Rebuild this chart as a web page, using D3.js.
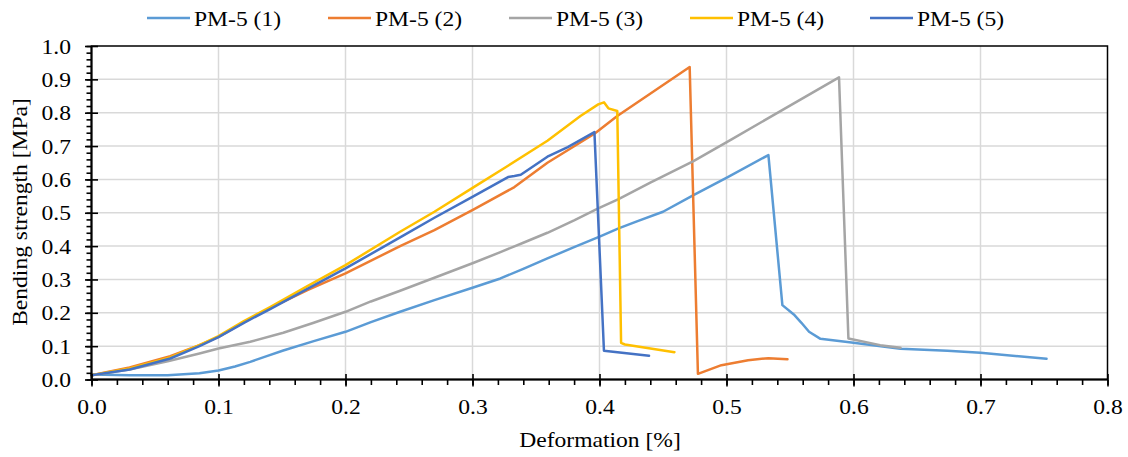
<!DOCTYPE html>
<html><head><meta charset="utf-8">
<script src="https://cdn.jsdelivr.net/npm/d3@7"></script>
<style>
html,body{margin:0;padding:0;background:#fff;}
svg{display:block;background:#fff;}
text{font-family:"Liberation Serif","Times New Roman",serif;fill:#000;}
</style></head><body>
<svg id="chart" width="1128" height="457"></svg>
<script>
// ---- data ----
const seriesNames = ["PM-5 (1)", "PM-5 (2)", "PM-5 (3)", "PM-5 (4)", "PM-5 (5)"];
const pm5_1 = [[0,0.015],[0.03,0.013],[0.06,0.013],[0.085,0.019],[0.1,0.027],[0.113,0.039],[0.125,0.053],[0.138,0.07],[0.151,0.087],[0.175,0.115],[0.2,0.143],[0.22,0.172],[0.243,0.203],[0.27,0.238],[0.3,0.275],[0.322,0.303],[0.34,0.332],[0.359,0.363],[0.38,0.397],[0.401,0.43],[0.415,0.453],[0.43,0.475],[0.45,0.503],[0.474,0.553],[0.501,0.607],[0.533,0.673],[0.544,0.223],[0.553,0.195],[0.559,0.17],[0.565,0.143],[0.574,0.122],[0.6,0.11],[0.637,0.092],[0.674,0.086],[0.7,0.08],[0.752,0.062]];
const pm5_2 = [[0,0.013],[0.03,0.036],[0.062,0.07],[0.085,0.103],[0.1,0.128],[0.12,0.172],[0.141,0.215],[0.17,0.268],[0.2,0.318],[0.243,0.4],[0.27,0.448],[0.301,0.51],[0.333,0.577],[0.359,0.65],[0.396,0.737],[0.414,0.79],[0.471,0.937],[0.4775,0.017],[0.496,0.043],[0.517,0.058],[0.533,0.064],[0.548,0.061]];
const pm5_3 = [[0,0.013],[0.03,0.03],[0.06,0.055],[0.085,0.078],[0.1,0.093],[0.125,0.113],[0.151,0.14],[0.175,0.17],[0.2,0.203],[0.22,0.234],[0.243,0.266],[0.27,0.305],[0.301,0.35],[0.322,0.382],[0.34,0.41],[0.359,0.44],[0.38,0.477],[0.399,0.513],[0.415,0.541],[0.44,0.59],[0.474,0.655],[0.504,0.72],[0.5886,0.906],[0.596,0.123],[0.621,0.103],[0.637,0.095]];
const pm5_4 = [[0,0.013],[0.03,0.033],[0.062,0.066],[0.085,0.103],[0.1,0.13],[0.12,0.175],[0.141,0.218],[0.17,0.28],[0.2,0.343],[0.243,0.443],[0.27,0.503],[0.301,0.577],[0.328,0.641],[0.359,0.716],[0.385,0.79],[0.399,0.825],[0.4035,0.831],[0.407,0.813],[0.414,0.805],[0.417,0.11],[0.42,0.105],[0.459,0.082]];
const pm5_5 = [[0,0.013],[0.03,0.03],[0.062,0.063],[0.085,0.1],[0.1,0.127],[0.12,0.17],[0.141,0.212],[0.17,0.272],[0.2,0.333],[0.243,0.426],[0.27,0.485],[0.301,0.55],[0.328,0.607],[0.333,0.61],[0.338,0.614],[0.359,0.668],[0.375,0.697],[0.396,0.742],[0.4035,0.086],[0.439,0.071]];
const seriesData = [pm5_1, pm5_2, pm5_3, pm5_4, pm5_5];
const xTicks = [0, 0.1, 0.2, 0.3, 0.4, 0.5, 0.6, 0.7, 0.8];
const yTicks = [0, 0.1, 0.2, 0.3, 0.4, 0.5, 0.6, 0.7, 0.8, 0.9, 1.0];
const xTitle = "Deformation [%]";
const yTitle = "Bending strength [MPa]";

// ---- style ----
const colors = ["#5B9BD5", "#ED7D31", "#A5A5A5", "#FFC000", "#4472C4"];
const SX = 1.15;
const FS = "20.5px";

const svg = d3.select("#chart");
const x = d3.scaleLinear().domain([0, 0.8]).range([91.5, 1107.5]);
const y = d3.scaleLinear().domain([0, 1]).range([379.5, 46]);
const xMinor = d3.range(0, 0.8001, 0.02);
const yMinor = d3.range(0, 1.0001, 0.02);

// gridlines
svg.append("g").selectAll("line").data(xTicks.slice(1, -1)).join("line")
  .attr("x1", d => x(d)).attr("x2", d => x(d)).attr("y1", y(0)).attr("y2", y(1))
  .attr("stroke", "#d9d9d9").attr("stroke-width", 1.5);
svg.append("g").selectAll("line").data(yTicks.slice(1, -1)).join("line")
  .attr("x1", x(0)).attr("x2", x(0.8)).attr("y1", d => y(d)).attr("y2", d => y(d))
  .attr("stroke", "#d9d9d9").attr("stroke-width", 1.5);

// series
const line = d3.line().x(d => x(d[0])).y(d => y(d[1]));
seriesData.forEach((s, i) => {
  svg.append("path").datum(s).attr("d", line).attr("fill", "none")
    .attr("stroke", colors[i]).attr("stroke-width", 2.5)
    .attr("stroke-linejoin", "round").attr("stroke-linecap", "round");
});

// frame
svg.append("rect").attr("x", x(0)).attr("y", y(1)).attr("width", x(0.8) - x(0)).attr("height", y(0) - y(1))
  .attr("fill", "none").attr("stroke", "#000").attr("stroke-width", 1.5);

// x axis
const gxMinor = svg.append("g").attr("transform", `translate(0,${y(0)})`)
  .call(d3.axisBottom(x).tickValues(xMinor).tickSize(5.5).tickFormat(""));
const gxUp = svg.append("g").attr("transform", `translate(0,${y(0)})`)
  .call(d3.axisTop(x).tickValues(xTicks).tickSize(5.5).tickFormat(""));
const gx = svg.append("g").attr("transform", `translate(0,${y(0)})`)
  .call(d3.axisBottom(x).tickValues(xTicks).tickSize(7).tickFormat(d3.format(".1f")));
[gxMinor, gxUp, gx].forEach(g => { g.select(".domain").remove(); g.selectAll("line").attr("stroke-width", 1.6); });
gx.selectAll("text").attr("y", null).attr("dy", null)
  .attr("transform", `translate(0,34.5) scale(${SX},1)`).style("font-size", FS);

// y axis
const gyMinor = svg.append("g").attr("transform", `translate(${x(0)},0)`)
  .call(d3.axisLeft(y).tickValues(yMinor).tickSize(5).tickFormat(""));
const gyRight = svg.append("g").attr("transform", `translate(${x(0)},0)`)
  .call(d3.axisRight(y).tickValues(yTicks).tickSize(6.5).tickFormat(""));
const gy = svg.append("g").attr("transform", `translate(${x(0)},0)`)
  .call(d3.axisLeft(y).tickValues(yTicks).tickSize(6.5).tickFormat(d3.format(".1f")));
[gyMinor, gyRight, gy].forEach(g => { g.select(".domain").remove(); g.selectAll("line").attr("stroke-width", 1.6); });
gy.selectAll("text").attr("x", null).attr("dy", null)
  .attr("text-anchor", "end")
  .attr("transform", `translate(-20.5,7) scale(${SX},1)`).style("font-size", FS);

// axis lines (thicker)
svg.append("line").attr("x1", x(0)).attr("x2", x(0.8)).attr("y1", y(0)).attr("y2", y(0)).attr("stroke", "#000").attr("stroke-width", 2);
svg.append("line").attr("x1", x(0)).attr("x2", x(0)).attr("y1", y(0)).attr("y2", y(1)).attr("stroke", "#000").attr("stroke-width", 2);

// titles
svg.append("text").attr("text-anchor", "middle")
  .attr("transform", `translate(${(x(0) + x(0.8)) / 2 + 0.5},447) scale(${SX},1)`)
  .style("font-size", FS).text(xTitle);
svg.append("text").attr("text-anchor", "middle")
  .attr("transform", `translate(27,212) rotate(-90) scale(${SX},1)`)
  .style("font-size", FS).text(yTitle);

// legend
const legX = [194, 375, 556, 737, 917];
seriesNames.forEach((n, i) => {
  const t = legX[i];
  svg.append("line").attr("x1", t - 47).attr("x2", t - 4).attr("y1", 18).attr("y2", 18)
    .attr("stroke", colors[i]).attr("stroke-width", 2.5);
  svg.append("text").attr("transform", `translate(${t},25.5) scale(${SX},1)`)
    .style("font-size", FS).text(n);
});
</script>
</body></html>
